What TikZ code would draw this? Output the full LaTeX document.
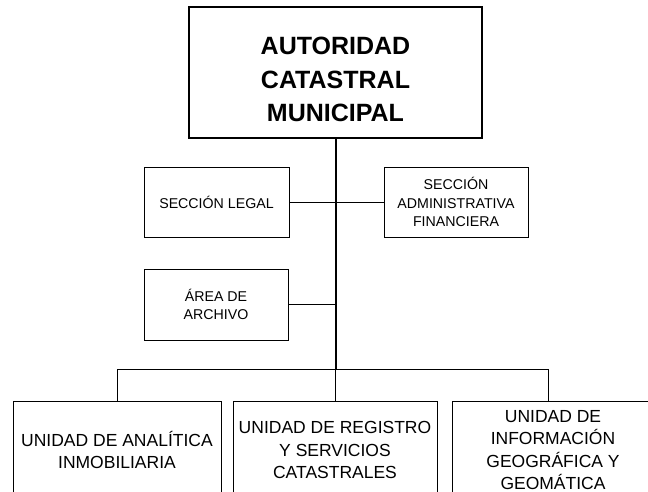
\documentclass[tikz,border=0pt]{standalone}
\usepackage{fontspec}
\setmainfont{Liberation Sans}
\usetikzlibrary{positioning}

\begin{document}
\begin{tikzpicture}[x=1pt,y=-1pt,
  head/.style={draw,line width=1.6pt,align=center,minimum width=293pt,minimum height=131pt,
    font=\fontsize{25}{33.5}\selectfont\bfseries},
  secc/.style={draw,line width=0.8pt,align=center,minimum width=145pt,minimum height=70pt,
    inner sep=1pt,font=\fontsize{14.2}{18.5}\selectfont},
  unid/.style={draw,line width=0.8pt,align=center,minimum height=98pt,
    inner sep=1pt,font=\fontsize{17.5}{22.3}\selectfont},
  trunk/.style={line width=1.5pt},
  branch/.style={line width=0.8pt}]
  \clip (0,0) rectangle (648,491);
  \node[head] (aut) at (335.5,72.5) {\rule{0pt}{32pt}AUTORIDAD\\CATASTRAL\\MUNICIPAL};
  \node[secc] (legal) at (216.5,202) {SECCIÓN LEGAL};
  \node[secc,minimum width=144pt] (admin) at (456,202) {SECCIÓN\\ADMINISTRATIVA\\FINANCIERA};
  \node[secc,minimum width=144pt,minimum height=71pt] (arch) at (216,304.5) {ÁREA DE\\ARCHIVO};
  \node[unid,minimum width=208pt] (u1) at (117,450) {UNIDAD DE ANALÍTICA\\INMOBILIARIA};
  \node[unid,minimum width=204pt] (u2) at (335,450) {UNIDAD DE REGISTRO\\Y SERVICIOS\\CATASTRALES};
  \node[unid,minimum width=202pt] (u3) at (553,450) {UNIDAD DE\\INFORMACIÓN\\GEOGRÁFICA Y\\GEOMÁTICA};
  \coordinate (bus) at (336,369);
  \coordinate (u3top) at ([xshift=-5pt]u3.north);
  \draw[trunk] (aut.south-|bus) -- (bus);
  \path[branch]
    (legal.east) edge (admin.west)
    (arch.east) edge (arch.east-|bus)
    (u1.north|-bus) edge (u3top|-bus)
    (u1.north|-bus) edge (u1.north)
    (u2.north|-bus) edge (u2.north)
    (u3top|-bus) edge (u3top);
\end{tikzpicture}
\end{document}
